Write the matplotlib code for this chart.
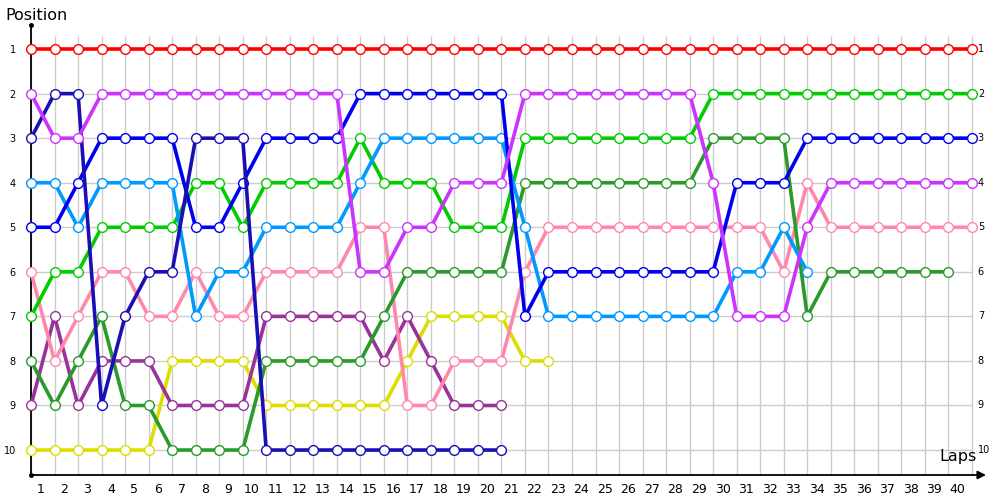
import matplotlib
matplotlib.use("Agg")
import matplotlib.pyplot as plt
import numpy as np

N = np.nan

laps = list(range(41))
lap_labels = [str(i) for i in range(1, 41)]
positions = list(range(1, 11))

# position of every car per lap (lap 0 .. 40), nan = no longer running
red = [1, 1, 1, 1, 1, 1, 1, 1, 1, 1, 1, 1, 1, 1, 1, 1, 1, 1, 1, 1, 1,
       1, 1, 1, 1, 1, 1, 1, 1, 1, 1, 1, 1, 1, 1, 1, 1, 1, 1, 1, 1]
violet = [2, 3, 3, 2, 2, 2, 2, 2, 2, 2, 2, 2, 2, 2, 6, 6, 5, 5, 4, 4, 4,
          2, 2, 2, 2, 2, 2, 2, 2, 4, 7, 7, 7, 5, 4, 4, 4, 4, 4, 4, 4]
navy = [3, 2, 2, 9, 7, 6, 6, 3, 3, 3, 10, 10, 10, 10, 10, 10, 10, 10, 10, 10, 10,
        N, N, N, N, N, N, N, N, N, N, N, N, N, N, N, N, N, N, N, N]
blue = [5, 5, 4, 3, 3, 3, 3, 5, 5, 4, 3, 3, 3, 3, 2, 2, 2, 2, 2, 2, 2,
        7, 6, 6, 6, 6, 6, 6, 6, 6, 4, 4, 4, 3, 3, 3, 3, 3, 3, 3, 3]
sky = [4, 4, 5, 4, 4, 4, 4, 7, 6, 6, 5, 5, 5, 5, 4, 3, 3, 3, 3, 3, 3,
       5, 7, 7, 7, 7, 7, 7, 7, 7, 6, 6, 5, 6, N, N, N, N, N, N, N]
lime = [7, 6, 6, 5, 5, 5, 5, 4, 4, 5, 4, 4, 4, 4, 3, 4, 4, 4, 5, 5, 5,
        3, 3, 3, 3, 3, 3, 3, 3, 2, 2, 2, 2, 2, 2, 2, 2, 2, 2, 2, 2]
forest = [8, 9, 8, 7, 9, 9, 10, 10, 10, 10, 8, 8, 8, 8, 8, 7, 6, 6, 6, 6, 6,
          4, 4, 4, 4, 4, 4, 4, 4, 3, 3, 3, 3, 7, 6, 6, 6, 6, 6, 6, N]
pink = [6, 8, 7, 6, 6, 7, 7, 6, 7, 7, 6, 6, 6, 6, 5, 5, 9, 9, 8, 8, 8,
        6, 5, 5, 5, 5, 5, 5, 5, 5, 5, 5, 6, 4, 5, 5, 5, 5, 5, 5, 5]
purple = [9, 7, 9, 8, 8, 8, 9, 9, 9, 9, 7, 7, 7, 7, 7, 8, 7, 8, 9, 9, 9,
          N, N, N, N, N, N, N, N, N, N, N, N, N, N, N, N, N, N, N, N]
yellow = [10, 10, 10, 10, 10, 10, 8, 8, 8, 8, 9, 9, 9, 9, 9, 9, 8, 7, 7, 7, 7,
          8, 8, N, N, N, N, N, N, N, N, N, N, N, N, N, N, N, N, N, N]

series = [
    (yellow, "#dddd00"),
    (purple, "#993399"),
    (pink, "#ff88aa"),
    (forest, "#2a9a2a"),
    (lime, "#00cc00"),
    (sky, "#0099ff"),
    (blue, "#0000ee"),
    (navy, "#1a0fb5"),
    (violet, "#cc33ff"),
    (red, "#ff0000"),
]

fig = plt.figure(figsize=(10, 5), dpi=100)
ax = fig.add_axes([0.031, 0.05, 0.955, 0.90])

x_max = 40.6
y_top, y_bot = 0.46, 10.56
ax.set_xlim(0, x_max)
ax.set_ylim(y_bot, y_top)

# grid
ax.vlines(laps, y_bot, 0.71, color="#cccccc", lw=1, zorder=0)
ax.hlines(positions, 0, laps[-1], color="#cccccc", lw=1, zorder=0)

for vals, col in series:
    ax.plot(laps, vals, "-o", color=col, lw=2.6, ms=7, mfc="white",
            mec=col, mew=1.0, zorder=3, clip_on=False)

# axes styling
for s in ["top", "right", "bottom"]:
    ax.spines[s].set_visible(False)
ax.spines["left"].set_linewidth(1.3)
ax.annotate("", xy=(1.0, 0), xytext=(0, 0), xycoords="axes fraction",
            arrowprops=dict(arrowstyle="-|>", color="black", lw=1.3,
                            mutation_scale=12, shrinkA=0, shrinkB=0))
ax.plot([0, 0], [0, 1], "k.", ms=5, transform=ax.transAxes, clip_on=False)

ax.set_yticks(positions)
ax.set_yticklabels([str(p) for p in positions], fontsize=7)
ax.set_xticks([k - 0.6 for k in range(1, 41)])
ax.set_xticklabels(lap_labels, fontsize=9)
ax.tick_params(axis="x", length=0, pad=6)
ax.tick_params(axis="y", length=0, pad=11)

for p in positions:
    ax.text(laps[-1] + 0.25, p, str(p), fontsize=7, va="center", ha="left")

fig.text(0.005, 0.97, "Position", fontsize=11.5, va="center", ha="left")
ax.text(0.99, 0.025, "Laps", fontsize=11.5, va="bottom", ha="right",
        transform=ax.transAxes)

fig.savefig("out.png", dpi=100)
